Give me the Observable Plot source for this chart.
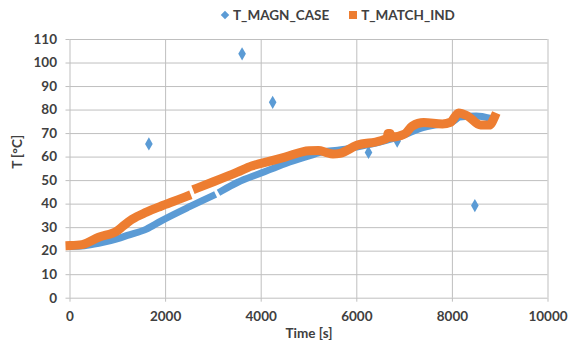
<!DOCTYPE html>
<html>
<head>
<meta charset="utf-8">
<script src="https://cdn.jsdelivr.net/npm/d3@7"></script>
<script src="https://cdn.jsdelivr.net/npm/@observablehq/plot@0.6"></script>
<style>
  body { margin: 0; background: #fff; font-family: Lato, "Open Sans", sans-serif; }
  #wrap { position: relative; width: 570px; height: 349px; }
  #legend { position: absolute; top: 5px; left: 222px; height: 20px; font-weight: bold; font-size: 13.5px; color: #404040; display: flex; align-items: center; white-space: nowrap; }
  .item { display: flex; align-items: center; margin-right: 20px; }
  .dia { width: 6px; height: 6px; background: #5B9BD5; transform: rotate(45deg); margin-right: 5px; }
  .sq { width: 8px; height: 8px; background: #ED7D31; margin-right: 4px; }
  #chart { position: absolute; top: 28px; left: 0; }
</style>
</head>
<body>
<div id="wrap">
  <div id="legend">
    <div class="item"><div class="dia"></div><span>T_MAGN_CASE</span></div>
    <div class="item"><div class="sq"></div><span>T_MATCH_IND</span></div>
  </div>
  <div id="chart"></div>
</div>
<script>
// T_MAGN_CASE (main trace, null = gap)
const magnTime = [0, 300, 600, 1000, 1200, 1600, 1900, 2500, 2980, null, 3170, 3500, 4000, 4500, 5000, 5300, 5600, 6000, 6500, 7000, 7300, 7600, 8000, 8150, 8500, 8800];
const magnTemp = [22, 22.3, 23.3, 25.3, 26.7, 29.4, 32.8, 38.9, 43.5, null, 45.6, 49.2, 53.2, 57.2, 60.5, 62.3, 62.9, 64.3, 66.5, 69.5, 72, 73.5, 75, 77, 77.5, 76.5];
// T_MAGN_CASE isolated readings
const outTime = [1650, 3600, 4240, 6245, 6845, 8470];
const outTemp = [65.6, 103.9, 83.3, 62, 66.8, 39.4];
// T_MATCH_IND (null = gap)
const indTime = [0, 250, 600, 1000, 1100, 1300, 1600, 1900, 2250, 2440, null, 2660, 3000, 3500, 3800, 4000, 4500, 5000, 5200, 5350, 5500, 5650, 6000, 6500, 6640, 6650, 6700, 6710, 7000, 7160, 7400, 7790, 7960, 8130, 8310, 8590, 8770, 8880];
const indTemp = [22.4, 22.8, 25.9, 28.8, 30.5, 33.6, 36.6, 39.1, 41.8, 43.3, null, 46.8, 49.5, 53.6, 56.2, 57.3, 60, 62.7, 62.8, 62, 61.3, 61.6, 65, 67, 68.2, 70, 70, 68.4, 69.8, 73.2, 74.7, 74.1, 74.8, 78.8, 77.6, 73.6, 73.6, 77];
const xTicks = [0, 2000, 4000, 6000, 8000, 10000];
const yTicks = [0, 10, 20, 30, 40, 50, 60, 70, 80, 90, 100, 110];

const magn = magnTime.map((t, i) => ({t, v: magnTemp[i]}));
const outl = outTime.map((t, i) => ({t, v: outTemp[i]}));
const ind = indTime.map((t, i) => ({t, v: indTemp[i]}));

const grid = "#bfbfbf";
const chart = Plot.plot({
  width: 570,
  height: 321,
  marginLeft: 69.5,
  marginRight: 22.5,
  marginTop: 11,
  marginBottom: 51.3,
  style: {fontFamily: "Lato, 'Open Sans', sans-serif", fontSize: "13.5px", fontWeight: "bold", background: "#fff"},
  x: {domain: [0, 10000]},
  y: {domain: [0, 110]},
  marks: [
    Plot.ruleX(xTicks, {stroke: grid, strokeWidth: 1}),
    Plot.ruleY(yTicks, {stroke: grid, strokeWidth: 1}),
    Plot.axisX({ticks: xTicks, tickSize: 4, tickPadding: 9, stroke: grid, fill: "#404040", tickFormat: d => String(d), label: null}),
    Plot.axisY({ticks: yTicks, tickSize: 4, tickPadding: 9, stroke: grid, fill: "#404040", tickFormat: d => String(d), label: null}),
    Plot.text(["Time [s]"], {frameAnchor: "bottom", dy: 40, fill: "#404040"}),
    Plot.text(["T [°C]"], {frameAnchor: "left", dx: -52, rotate: -90, fill: "#404040"}),
    Plot.line(magn, {x: "t", y: "v", stroke: "#5B9BD5", strokeWidth: 7, strokeLinecap: "square", strokeLinejoin: "round", curve: "monotone-x", defined: d => d.t != null}),
    Plot.dot(outl, {x: "t", y: "v", symbol: "diamond", r: 4, fill: "#5B9BD5", stroke: "none"}),
    Plot.line(ind, {x: "t", y: "v", stroke: "#ED7D31", strokeWidth: 9, strokeLinecap: "square", strokeLinejoin: "round", curve: "monotone-x", defined: d => d.t != null})
  ]
});
document.getElementById("chart").appendChild(chart);
</script>
</body>
</html>
